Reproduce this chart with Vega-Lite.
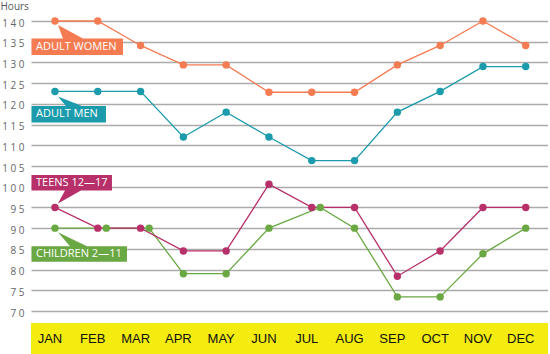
{
  "$schema": "https://vega.github.io/schema/vega-lite/v6.json",
  "padding": {"top": 1, "left": 0, "right": 0, "bottom": 0},
  "spacing": 12,
  "bounds": "flush",
  "background": "white",
  "config": {"view": {"stroke": null}, "font": "Open Sans"},
  "datasets": {
    "hours": [
      {"series": "CHILDREN 2—11", "m": 1, "v": 90},
      {"series": "CHILDREN 2—11", "m": 2.2, "v": 90},
      {"series": "CHILDREN 2—11", "m": 3.2, "v": 90},
      {"series": "CHILDREN 2—11", "m": 4, "v": 79},
      {"series": "CHILDREN 2—11", "m": 5, "v": 79},
      {"series": "CHILDREN 2—11", "m": 6, "v": 90},
      {"series": "CHILDREN 2—11", "m": 7.2, "v": 95},
      {"series": "CHILDREN 2—11", "m": 8, "v": 90},
      {"series": "CHILDREN 2—11", "m": 9, "v": 73.4},
      {"series": "CHILDREN 2—11", "m": 10, "v": 73.4},
      {"series": "CHILDREN 2—11", "m": 11, "v": 83.8},
      {"series": "CHILDREN 2—11", "m": 12, "v": 90},
      {"series": "TEENS 12—17", "m": 1, "v": 95},
      {"series": "TEENS 12—17", "m": 2, "v": 90},
      {"series": "TEENS 12—17", "m": 3, "v": 90},
      {"series": "TEENS 12—17", "m": 4, "v": 84.5},
      {"series": "TEENS 12—17", "m": 5, "v": 84.5},
      {"series": "TEENS 12—17", "m": 6, "v": 100.6},
      {"series": "TEENS 12—17", "m": 7, "v": 95},
      {"series": "TEENS 12—17", "m": 8, "v": 95},
      {"series": "TEENS 12—17", "m": 9, "v": 78.4},
      {"series": "TEENS 12—17", "m": 10, "v": 84.5},
      {"series": "TEENS 12—17", "m": 11, "v": 95},
      {"series": "TEENS 12—17", "m": 12, "v": 95},
      {"series": "ADULT MEN", "m": 1, "v": 123},
      {"series": "ADULT MEN", "m": 2, "v": 123},
      {"series": "ADULT MEN", "m": 3, "v": 123},
      {"series": "ADULT MEN", "m": 4, "v": 112},
      {"series": "ADULT MEN", "m": 5, "v": 118},
      {"series": "ADULT MEN", "m": 6, "v": 112},
      {"series": "ADULT MEN", "m": 7, "v": 106.3},
      {"series": "ADULT MEN", "m": 8, "v": 106.3},
      {"series": "ADULT MEN", "m": 9, "v": 118},
      {"series": "ADULT MEN", "m": 10, "v": 123},
      {"series": "ADULT MEN", "m": 11, "v": 129},
      {"series": "ADULT MEN", "m": 12, "v": 129},
      {"series": "ADULT WOMEN", "m": 1, "v": 140},
      {"series": "ADULT WOMEN", "m": 2, "v": 140},
      {"series": "ADULT WOMEN", "m": 3, "v": 134.1},
      {"series": "ADULT WOMEN", "m": 4, "v": 129.4},
      {"series": "ADULT WOMEN", "m": 5, "v": 129.4},
      {"series": "ADULT WOMEN", "m": 6, "v": 122.8},
      {"series": "ADULT WOMEN", "m": 7, "v": 122.8},
      {"series": "ADULT WOMEN", "m": 8, "v": 122.8},
      {"series": "ADULT WOMEN", "m": 9, "v": 129.4},
      {"series": "ADULT WOMEN", "m": 10, "v": 134.1},
      {"series": "ADULT WOMEN", "m": 11, "v": 140},
      {"series": "ADULT WOMEN", "m": 12, "v": 134.1}
    ],
    "months": [
      {"m": 1, "label": "JAN"}, {"m": 2, "label": "FEB"}, {"m": 3, "label": "MAR"},
      {"m": 4, "label": "APR"}, {"m": 5, "label": "MAY"}, {"m": 6, "label": "JUN"},
      {"m": 7, "label": "JUL"}, {"m": 8, "label": "AUG"}, {"m": 9, "label": "SEP"},
      {"m": 10, "label": "OCT"}, {"m": 11, "label": "NOV"}, {"m": 12, "label": "DEC"}
    ]
  },
  "vconcat": [
    {
      "width": 517,
      "height": 290,
      "data": {"name": "hours"},
      "encoding": {
        "x": {"field": "m", "type": "quantitative", "scale": {"domain": [0.44, 12.52], "nice": false, "zero": false}, "axis": null},
        "y": {
          "field": "v", "type": "quantitative",
          "scale": {"domain": [70, 140], "nice": false, "zero": false},
          "axis": {
            "values": [70, 75, 80, 85, 90, 95, 100, 105, 110, 115, 120, 125, 130, 135, 140],
            "domain": false, "ticks": false, "tickSize": 0,
            "grid": true, "gridColor": "#aaaaaa", "gridWidth": 1.5,
            "labelFont": "Open Sans", "labelFontSize": 10, "labelColor": "#666666",
            "labelPadding": 7, "labelOffset": 2,
            "labelExpr": "join(split(datum.label, ''), ' ')",
            "title": "Hours", "titleAngle": 0, "titleAlign": "left", "titleBaseline": "alphabetic",
            "titleX": -31, "titleY": -12, "titleFont": "Open Sans", "titleFontSize": 10,
            "titleFontWeight": "normal", "titleColor": "#555555"
          }
        },
        "color": {
          "field": "series", "type": "nominal",
          "scale": {"domain": ["ADULT WOMEN", "ADULT MEN", "TEENS 12—17", "CHILDREN 2—11"], "range": ["#f47b52", "#1b9bab", "#b7306a", "#6aa843"]},
          "legend": null
        }
      },
      "layer": [
        {
          "transform": [{"filter": "datum.m == 1"}],
          "mark": {"type": "point", "filled": true, "opacity": 1, "size": 4, "strokeWidth": 0},
          "encoding": {
            "shape": {
              "field": "series", "type": "nominal",
              "scale": {
                "domain": ["ADULT WOMEN", "ADULT MEN", "TEENS 12—17", "CHILDREN 2—11"],
                "range": [
                  "M3,4 L28,17.5 L68,17.5 L68,34 L-23.5,34 L-23.5,17.5 L8,17.5 Z",
                  "M3,5 L27,14.5 L51,14.5 L51,31 L-23.5,31 L-23.5,14.5 L11,14.5 Z",
                  "M3,-4 L10,-17 L-23.5,-17 L-23.5,-32.5 L57,-32.5 L57,-17 L26,-17 Z",
                  "M3,4 L32,18 L72,18 L72,33.5 L-23.5,33.5 L-23.5,18 L15,18 Z"
                ]
              },
              "legend": null
            }
          }
        },
        {
          "transform": [{"filter": "datum.m == 1 && datum.series == 'ADULT WOMEN'"}],
          "mark": {"type": "text", "align": "left", "baseline": "middle", "dx": -19, "dy": 25.5, "font": "Open Sans", "fontSize": 11},
          "encoding": {"text": {"field": "series"}, "color": {"value": "white"}}
        },
        {
          "transform": [{"filter": "datum.m == 1 && datum.series == 'ADULT MEN'"}],
          "mark": {"type": "text", "align": "left", "baseline": "middle", "dx": -19, "dy": 22.5, "font": "Open Sans", "fontSize": 11},
          "encoding": {"text": {"field": "series"}, "color": {"value": "white"}}
        },
        {
          "transform": [{"filter": "datum.m == 1 && datum.series == 'TEENS 12—17'"}],
          "mark": {"type": "text", "align": "left", "baseline": "middle", "dx": -19, "dy": -24.5, "font": "Open Sans", "fontSize": 11},
          "encoding": {"text": {"field": "series"}, "color": {"value": "white"}}
        },
        {
          "transform": [{"filter": "datum.m == 1 && datum.series == 'CHILDREN 2—11'"}],
          "mark": {"type": "text", "align": "left", "baseline": "middle", "dx": -19, "dy": 25.7, "font": "Open Sans", "fontSize": 11},
          "encoding": {"text": {"field": "series"}, "color": {"value": "white"}}
        },
        {
          "mark": {"type": "line", "strokeWidth": 1.3},
          "encoding": {}
        },
        {
          "mark": {"type": "circle", "size": 55, "opacity": 1},
          "encoding": {}
        }
      ]
    },
    {
      "width": 517,
      "height": 31,
      "view": {"fill": "#f4eb0f", "stroke": null},
      "data": {"name": "months"},
      "mark": {"type": "text", "font": "Liberation Sans", "fontSize": 13, "color": "#111111", "baseline": "middle", "align": "center", "dx": -5, "dy": -15, "y": "height"},
      "encoding": {
        "x": {"field": "m", "type": "quantitative", "scale": {"domain": [0.44, 12.52], "nice": false, "zero": false}, "axis": null},
        "text": {"field": "label"}
      }
    }
  ]
}
